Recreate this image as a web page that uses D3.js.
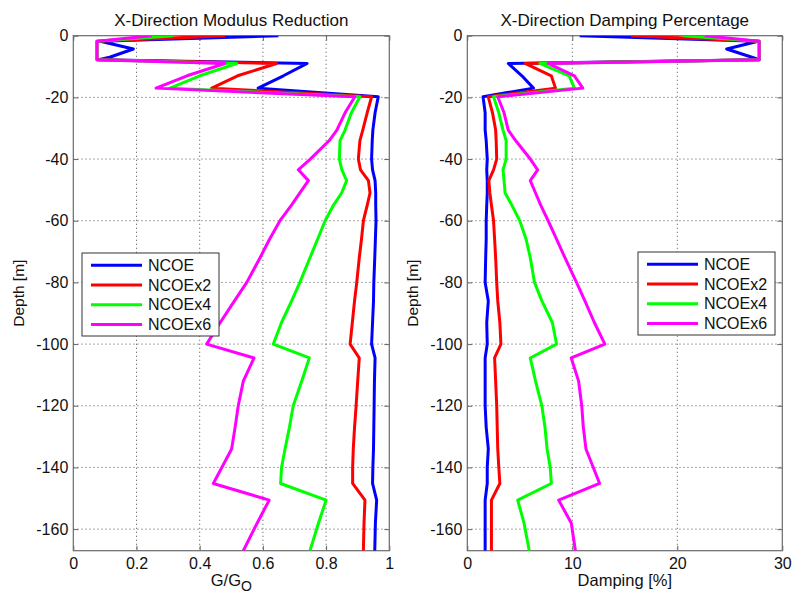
<!DOCTYPE html>
<html>
<head>
<meta charset="utf-8">
<script src="https://cdn.jsdelivr.net/npm/d3@7"></script>
<style>
  body { margin: 0; background: #fff; }
  svg { display: block; font-family: "Liberation Sans", Arial, Helvetica, sans-serif; }
</style>
</head>
<body>
<svg id="chart"></svg>
<script>
const width = 792;
const height = 593;

// depth of each profile point [m]
const depths = [0, -1.8, -4.3, -7, -7.8, -9, -13, -17, -19.8, -25, -30.6, -34, -40, -43.5, -47, -51, -55,
  -60, -66, -72, -80, -86, -93, -100, -104.5, -112, -120, -127, -134, -140, -145.2, -150.6, -158, -167];

const seriesNames = ["NCOE", "NCOEx2", "NCOEx4", "NCOEx6"];
const seriesColors = ["#0000ff", "#ff0000", "#00ff00", "#ff00ff"];

// G/Go
const modulusNCOE = [0.649, 0.085, 0.19, 0.115, 0.08, 0.74, 0.665, 0.585, 0.965, 0.955, 0.948, 0.946, 0.944, 0.947, 0.955, 0.957, 0.957,
  0.958, 0.956, 0.954, 0.951, 0.95, 0.947, 0.944, 0.955, 0.953, 0.952, 0.951, 0.95, 0.948, 0.947, 0.96, 0.956, 0.954];
const modulusNCOEx2 = [0.48, 0.075, 0.075, 0.075, 0.075, 0.643, 0.52, 0.438, 0.944, 0.93, 0.916, 0.907, 0.902, 0.909, 0.934, 0.939, 0.93,
  0.918, 0.912, 0.905, 0.897, 0.89, 0.883, 0.876, 0.905, 0.9, 0.895, 0.89, 0.886, 0.884, 0.884, 0.923, 0.92, 0.918];
const modulusNCOEx4 = [0.316, 0.075, 0.075, 0.075, 0.075, 0.517, 0.40, 0.306, 0.907, 0.88, 0.86, 0.844, 0.842, 0.85, 0.865, 0.849, 0.823,
  0.797, 0.773, 0.749, 0.717, 0.691, 0.659, 0.633, 0.747, 0.723, 0.696, 0.684, 0.67, 0.659, 0.656, 0.8, 0.776, 0.749];
const modulusNCOEx6 = [0.248, 0.075, 0.075, 0.075, 0.075, 0.48, 0.36, 0.262, 0.891, 0.86, 0.834, 0.81, 0.75, 0.712, 0.744, 0.717, 0.69,
  0.654, 0.621, 0.591, 0.549, 0.51, 0.465, 0.422, 0.572, 0.538, 0.522, 0.512, 0.501, 0.47, 0.443, 0.62, 0.582, 0.538];

// damping [%]
const dampingNCOE = [10.7, 27.7, 24.7, 27.1, 27.8, 3.9, 5.2, 6.3, 1.5, 1.7, 1.7, 1.8, 1.9, 1.85, 1.9, 1.9, 1.85,
  1.8, 1.8, 1.75, 1.7, 2.0, 1.85, 1.9, 1.7, 1.7, 1.7, 1.8, 2.0, 1.9, 1.9, 1.7, 1.7, 1.7];
const dampingNCOEx2 = [15.6, 27.8, 27.8, 27.8, 27.8, 5.5, 8.0, 8.4, 2.0, 2.4, 2.7, 2.75, 2.8, 2.5, 2.05, 2.15, 2.3,
  2.5, 2.6, 2.7, 2.8, 2.9, 3.1, 3.2, 2.6, 2.7, 2.8, 2.85, 2.9, 3.0, 3.1, 2.3, 2.3, 2.3];
const dampingNCOEx4 = [20.6, 27.8, 27.8, 27.8, 27.8, 6.9, 9.7, 10.2, 2.5, 3.0, 3.4, 3.7, 3.7, 3.4, 3.5, 3.6, 4.25,
  5.0, 5.6, 6.0, 6.4, 7.1, 8.1, 8.5, 6.0, 6.5, 7.1, 7.4, 7.6, 7.9, 8.0, 4.8, 5.4, 5.9];
const dampingNCOEx6 = [22.6, 27.8, 27.8, 27.8, 27.8, 7.7, 10.2, 11.0, 2.9, 3.5, 3.9, 4.6, 6.0, 6.7, 6.0, 6.5, 7.0,
  7.7, 8.5, 9.3, 10.4, 11.2, 12.1, 13.1, 9.9, 10.6, 10.9, 11.05, 11.3, 12.0, 12.6, 8.7, 9.9, 10.3];

const depthTicks = [0, -20, -40, -60, -80, -100, -120, -140, -160];
const modulusTicks = [0, 0.2, 0.4, 0.6, 0.8, 1];
const dampingTicks = [0, 10, 20, 30];

const svg = d3.select("#chart")
  .attr("width", width)
  .attr("height", height)
  .attr("viewBox", [0, 0, width, height]);

const plotTop = 35.7, plotBottom = 550.7;

const y = d3.scaleLinear().domain([-167, 0]).range([plotBottom, plotTop]);

drawPanel({
  id: "mod",
  left: 73.3, right: 389.3,
  domain: [0, 1],
  ticks: modulusTicks,
  title: "X-Direction Modulus Reduction",
  series: [modulusNCOE, modulusNCOEx2, modulusNCOEx4, modulusNCOEx6],
  legend: [82, 253],
  xlabel: "mod"
});

drawPanel({
  id: "damp",
  left: 467.3, right: 782.3,
  domain: [0, 30],
  ticks: dampingTicks,
  title: "X-Direction Damping Percentage",
  series: [dampingNCOE, dampingNCOEx2, dampingNCOEx4, dampingNCOEx6],
  legend: [638, 252],
  xlabel: "damp"
});

function drawPanel(p) {
  const x = d3.scaleLinear().domain(p.domain).range([p.left, p.right]);
  const g = svg.append("g");

  g.append("clipPath").attr("id", "clip-" + p.id)
    .append("rect")
    .attr("x", p.left).attr("y", plotTop)
    .attr("width", p.right - p.left).attr("height", plotBottom - plotTop);

  // grid
  g.append("g").selectAll("line")
    .data(p.ticks.slice(1, -1))
    .join("line")
    .attr("x1", d => x(d)).attr("x2", d => x(d))
    .attr("y1", plotTop).attr("y2", plotBottom)
    .attr("stroke", "#777").attr("stroke-dasharray", "1.3,2.7");

  g.append("g").selectAll("line")
    .data(depthTicks.slice(1))
    .join("line")
    .attr("x1", p.left).attr("x2", p.right)
    .attr("y1", d => y(d)).attr("y2", d => y(d))
    .attr("stroke", "#777").attr("stroke-dasharray", "1.3,2.7");

  // axes, ticks pointing inward
  const axes = [
    g.append("g").attr("transform", `translate(0,${plotBottom})`)
      .call(d3.axisBottom(x).tickValues(p.ticks).tickSize(-5).tickPadding(7).tickFormat(d3.format("~g"))),
    g.append("g").attr("transform", `translate(0,${plotTop})`)
      .call(d3.axisTop(x).tickValues(p.ticks).tickSize(-5).tickFormat("")),
    g.append("g").attr("transform", `translate(${p.left},0)`)
      .call(d3.axisLeft(y).tickValues(depthTicks).tickSize(-5).tickPadding(5).tickFormat(d => String(d))),
    g.append("g").attr("transform", `translate(${p.right},0)`)
      .call(d3.axisRight(y).tickValues(depthTicks).tickSize(-5).tickFormat(""))
  ];
  axes.forEach(a => {
    a.select(".domain").remove();
    a.selectAll(".tick line").attr("stroke", "#666");
    a.selectAll("text").attr("fill", "#111").style("font-size", "16px");
  });

  g.append("rect")
    .attr("x", p.left).attr("y", plotTop)
    .attr("width", p.right - p.left).attr("height", plotBottom - plotTop)
    .attr("fill", "none").attr("stroke", "#6a6a6a").attr("stroke-width", 1.2);

  // profiles
  const line = d3.line()
    .x(d => x(d[0]))
    .y(d => y(d[1]));

  g.append("g").attr("clip-path", `url(#clip-${p.id})`)
    .selectAll("path")
    .data(p.series)
    .join("path")
    .attr("d", s => line(s.map((v, i) => [v, depths[i]])))
    .attr("fill", "none")
    .attr("stroke", (s, i) => seriesColors[i])
    .attr("stroke-width", 3)
    .attr("stroke-linejoin", "round");

  // title and labels
  const cx = (p.left + p.right) / 2;
  g.append("text")
    .attr("x", cx).attr("y", 26)
    .attr("text-anchor", "middle")
    .style("font-size", "17px")
    .attr("fill", "#111")
    .text(p.title);

  g.append("text")
    .attr("transform", `translate(${p.left - 55},${(plotTop + plotBottom) / 2}) rotate(-90)`)
    .attr("text-anchor", "middle")
    .attr("dy", "0.35em")
    .style("font-size", "15.5px")
    .attr("fill", "#111")
    .text("Depth [m]");

  const xl = g.append("text")
    .attr("x", cx).attr("y", 586)
    .attr("text-anchor", "middle")
    .style("font-size", "16.5px")
    .attr("fill", "#111");
  if (p.xlabel === "mod") {
    xl.append("tspan").text("G/G");
    xl.append("tspan").attr("dy", 5).style("font-size", "14px").text("O");
  } else {
    xl.text("Damping [%]");
  }

  // legend
  const [lx, ly] = p.legend;
  const lg = g.append("g").attr("transform", `translate(${lx},${ly})`);
  lg.append("rect")
    .attr("width", 137).attr("height", 83)
    .attr("fill", "#fff").attr("stroke", "#333").attr("stroke-width", 1);
  const item = lg.selectAll("g.item")
    .data(seriesNames)
    .join("g")
    .attr("class", "item")
    .attr("transform", (d, i) => `translate(0,${12.3 + i * 19.7})`);
  item.append("line")
    .attr("x1", 9).attr("x2", 60)
    .attr("stroke", (d, i) => seriesColors[i])
    .attr("stroke-width", 3);
  item.append("text")
    .attr("x", 66).attr("dy", "0.36em")
    .style("font-size", "16px")
    .attr("fill", "#111")
    .text(d => d);
}
</script>
</body>
</html>
